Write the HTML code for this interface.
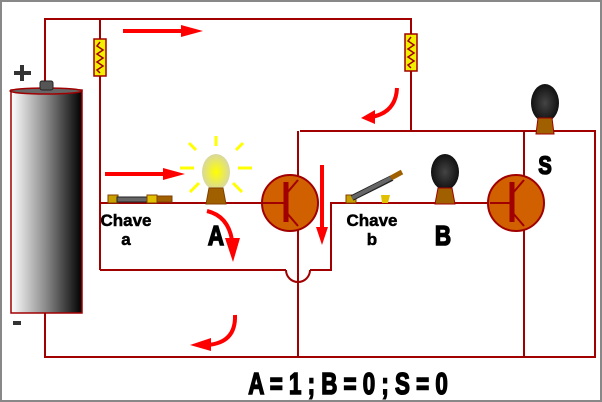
<!DOCTYPE html>
<html><head><meta charset="utf-8"><style>
html,body{margin:0;padding:0;background:#fff}
svg{display:block}
text{font-family:"Liberation Sans",sans-serif;font-weight:bold}
.hv{stroke:#000;stroke-width:1.6;fill:#000}
</style></head><body>
<svg width="602" height="402" viewBox="0 0 602 402" xmlns="http://www.w3.org/2000/svg">
<defs>
<linearGradient id="bat" x1="0" x2="1" y1="0" y2="0">
<stop offset="0" stop-color="#fff"/><stop offset="0.5" stop-color="#888"/><stop offset="1" stop-color="#000"/>
</linearGradient>
<radialGradient id="lit" cx="0.5" cy="0.5" r="0.5"><stop offset="0" stop-color="#ffff00"/><stop offset="1" stop-color="#d8d8a0"/></radialGradient>
<radialGradient id="dark" cx="0.5" cy="0.5" r="0.5"><stop offset="0" stop-color="#444"/><stop offset="1" stop-color="#111"/></radialGradient>
</defs>
<rect x="1" y="1" width="600" height="400" fill="#fff" stroke="#888" stroke-width="2"/>
<g fill="none" stroke="#a00000" stroke-width="2">
<polyline points="45,84 45,19 411,19 411,131"/>
<line x1="100" y1="19" x2="100" y2="270"/>
<polyline points="100,270 286,270"/>
<path d="M286,270 A12,12 0 0 0 310,270"/>
<polyline points="310,270 331,270 331,203 490,203"/>
<line x1="100" y1="203" x2="262" y2="203"/>
<polyline points="300,131 595,131 595,357 45,357 45,313"/>
<line x1="298" y1="131" x2="298" y2="180"/>
<line x1="298" y1="226" x2="298" y2="357"/>
<line x1="524" y1="131" x2="524" y2="180"/>
<line x1="524" y1="226" x2="524" y2="357"/>
</g>
<g stroke="#a00000" stroke-width="1.5">
<rect x="94" y="39" width="12" height="37" fill="#f0f000"/>
<rect x="405" y="34" width="12" height="37" fill="#f0f000"/>
<polyline fill="none" points="100,42 97,46 103,50 97,54 103,58 97,62 103,66 97,70 100,73"/>
<polyline fill="none" points="411,37 408,41 414,45 408,49 414,53 408,57 414,61 408,65 411,68"/>
</g>
<rect x="11" y="90" width="71" height="223" fill="url(#bat)" stroke="#a00000" stroke-width="1.5"/>
<ellipse cx="46" cy="91" rx="36" ry="3" fill="#666" stroke="#a00000" stroke-width="1.5"/>
<rect x="40" y="81" width="13" height="9" rx="2" fill="#555" stroke="#222"/>
<path d="M14,73 h17 M22,65 v16" stroke="#333" stroke-width="4"/>
<rect x="13" y="321" width="8" height="4" fill="#333"/>
<g stroke="#ffff00" stroke-width="3">
<line x1="216" y1="136" x2="216" y2="146"/><line x1="189" y1="143" x2="196" y2="150"/><line x1="243" y1="143" x2="236" y2="150"/>
<line x1="180" y1="168" x2="194" y2="168"/><line x1="238" y1="168" x2="252" y2="168"/>
<line x1="190" y1="192" x2="199" y2="183"/><line x1="242" y1="192" x2="233" y2="183"/>
</g>
<ellipse cx="216" cy="172" rx="14" ry="18" fill="url(#lit)"/>
<path d="M209,188 h14 l3,16 h-20 z" fill="#a06000" stroke="#804000"/>
<ellipse cx="445" cy="172" rx="14" ry="18" fill="url(#dark)"/>
<path d="M438,188 h14 l3,16 h-20 z" fill="#a06000" stroke="#a00000"/>
<ellipse cx="545" cy="103" rx="14" ry="19" fill="url(#dark)"/>
<path d="M538,118 h14 l2,16 h-18 z" fill="#a06000" stroke="#a00000"/>
<g stroke="#a00000" stroke-width="2">
<circle cx="290" cy="203" r="28" fill="#d06000"/>
<line x1="286" y1="182" x2="286" y2="222" stroke-width="5"/>
<line x1="262" y1="203" x2="286" y2="203"/>
<line x1="286" y1="194" x2="298" y2="180"/><line x1="286" y1="212" x2="298" y2="226"/>
<circle cx="516" cy="203" r="28" fill="#d06000"/>
<line x1="512" y1="182" x2="512" y2="222" stroke-width="5"/>
<line x1="490" y1="203" x2="512" y2="203"/>
<line x1="512" y1="194" x2="524" y2="180"/><line x1="512" y1="212" x2="524" y2="226"/>
</g>
<rect x="108" y="195" width="10" height="8" fill="#c8a000" stroke="#804000"/>
<rect x="117" y="197" width="32" height="5" fill="#666" stroke="#222"/>
<rect x="147" y="195" width="10" height="8" fill="#e0c000" stroke="#804000"/>
<rect x="157" y="196" width="15" height="6" fill="#a06000" stroke="#804000"/>
<rect x="346" y="195" width="10" height="8" fill="#c8a000" stroke="#804000"/>
<line x1="352" y1="198" x2="392" y2="178" stroke="#222" stroke-width="6"/>
<line x1="352" y1="198" x2="391" y2="178" stroke="#666" stroke-width="4"/>
<line x1="391" y1="178" x2="402" y2="172" stroke="#a06000" stroke-width="5"/>
<path d="M381,195 h9 l-2,8 h-6 z" fill="#e0c000"/>
<g stroke="#ff0000" stroke-width="4" fill="none">
<line x1="123" y1="31" x2="185" y2="31"/>
<line x1="105" y1="174" x2="165" y2="174"/>
<line x1="322" y1="165" x2="322" y2="230"/>
<path d="M207,211 Q228,216 232,240"/>
<path d="M397,88 Q396,112 372,117"/>
<path d="M235,315 Q236,343 207,345"/>
</g>
<g fill="#ff0000">
<polygon points="181,25 203,31 181,37"/>
<polygon points="163,168 185,174 163,180"/>
<polygon points="316,227 322,245 328,227"/>
<polygon points="225,238 233,262 240,238"/>
<polygon points="375,110 361,118 375,124"/>
<polygon points="211,338 190,345 211,351"/>
</g>
<text x="126" y="226" font-size="17" font-weight="bold" text-anchor="middle" stroke="#000" stroke-width="0.5">Chave</text>
<text x="126" y="245" font-size="17" font-weight="bold" text-anchor="middle" stroke="#000" stroke-width="0.5">a</text>
<text x="372" y="226" font-size="17" font-weight="bold" text-anchor="middle" stroke="#000" stroke-width="0.5">Chave</text>
<text x="372" y="245" font-size="17" font-weight="bold" text-anchor="middle" stroke="#000" stroke-width="0.5">b</text>
<g transform="translate(216,245) scale(0.8,1)"><text class="hv" x="0" y="0" font-size="28" font-weight="bold" text-anchor="middle">A</text></g>
<g transform="translate(443,245) scale(0.8,1)"><text class="hv" x="0" y="0" font-size="28" font-weight="bold" text-anchor="middle">B</text></g>
<g transform="translate(545,174) scale(0.8,1)"><text class="hv" x="0" y="0" font-size="25" font-weight="bold" text-anchor="middle">S</text></g>
<g transform="translate(348,394) scale(0.72,1)"><text class="hv" x="0" y="0" font-size="31" font-weight="bold" text-anchor="middle">A = 1 ; B = 0 ; S = 0</text></g>
</svg>
</body></html>
